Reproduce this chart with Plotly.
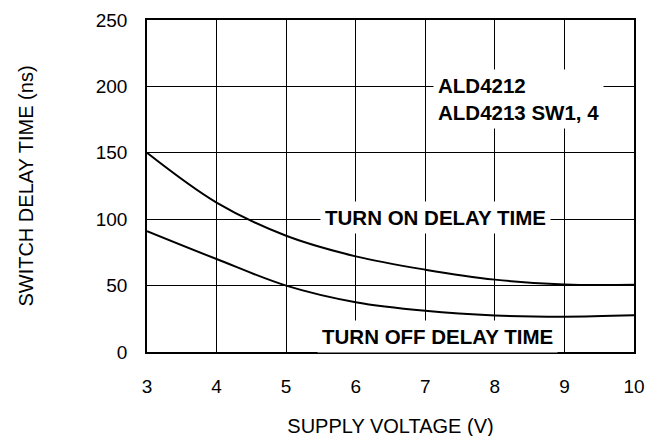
import plotly.graph_objects as go

voltage = [3, 4, 5, 6, 7, 8, 9, 10]
turn_on = [150, 112.5, 87.5, 72, 62, 54.5, 50.8, 50.6]
turn_off = [91, 70, 50, 37.5, 31, 27.5, 26.6, 27.6]
x_ticks = [3, 4, 5, 6, 7, 8, 9, 10]
y_ticks = [0, 50, 100, 150, 200, 250]

FONT = "Liberation Sans, Arial, Helvetica, sans-serif"

fig = go.Figure()
for ys in (turn_on, turn_off):
    fig.add_trace(go.Scatter(x=voltage, y=ys, mode="lines",
                             line=dict(color="black", width=2, shape="spline", smoothing=1),
                             showlegend=False, hoverinfo="skip"))

ann_font = dict(family=FONT, size=20.5, color="black")
fig.add_annotation(x=7.11, y=190.7, xref="x", yref="y", xanchor="left", yanchor="middle",
                   text="<b>ALD4212</b><br><b>ALD4213 SW1, 4</b>", align="left",
                   showarrow=False, font=ann_font, bgcolor="white", borderpad=4)
fig.add_annotation(x=7.15, y=101.5, xref="x", yref="y", xanchor="center", yanchor="middle",
                   text="<b>TURN ON DELAY TIME</b>", showarrow=False, font=ann_font,
                   bgcolor="white", borderpad=4)
fig.add_annotation(x=7.17, y=12, xref="x", yref="y", xanchor="center", yanchor="middle",
                   text="<b>TURN OFF DELAY TIME</b>", showarrow=False, font=ann_font,
                   bgcolor="white", borderpad=4)

fig.update_layout(
    width=652, height=429,
    margin=dict(l=139, r=26, t=12, b=85),
    paper_bgcolor="white", plot_bgcolor="white",
    font=dict(family=FONT, size=19, color="black"),
    xaxis=dict(range=[3, 10], tickvals=x_ticks, ticktext=[str(v) for v in x_ticks],
               showgrid=True, gridcolor="black", gridwidth=1,
               showline=True, linecolor="black", linewidth=1.5, mirror=True,
               ticks="", ticklabelstandoff=16, zeroline=False, automargin=False,
               ticklabeloverflow="allow",
               title=dict(text="SUPPLY VOLTAGE (V)", font=dict(size=20), standoff=24)),
    yaxis=dict(range=[0, 250], tickvals=y_ticks, ticktext=[str(v) for v in y_ticks],
               showgrid=True, gridcolor="black", gridwidth=1,
               showline=True, linecolor="black", linewidth=1.5, mirror=True,
               ticks="", ticklabelstandoff=14, zeroline=False, automargin=False,
               ticklabeloverflow="allow",
               title=dict(text="SWITCH DELAY TIME (ns)", font=dict(size=20), standoff=57)),
)

fig.write_html("out.html")
